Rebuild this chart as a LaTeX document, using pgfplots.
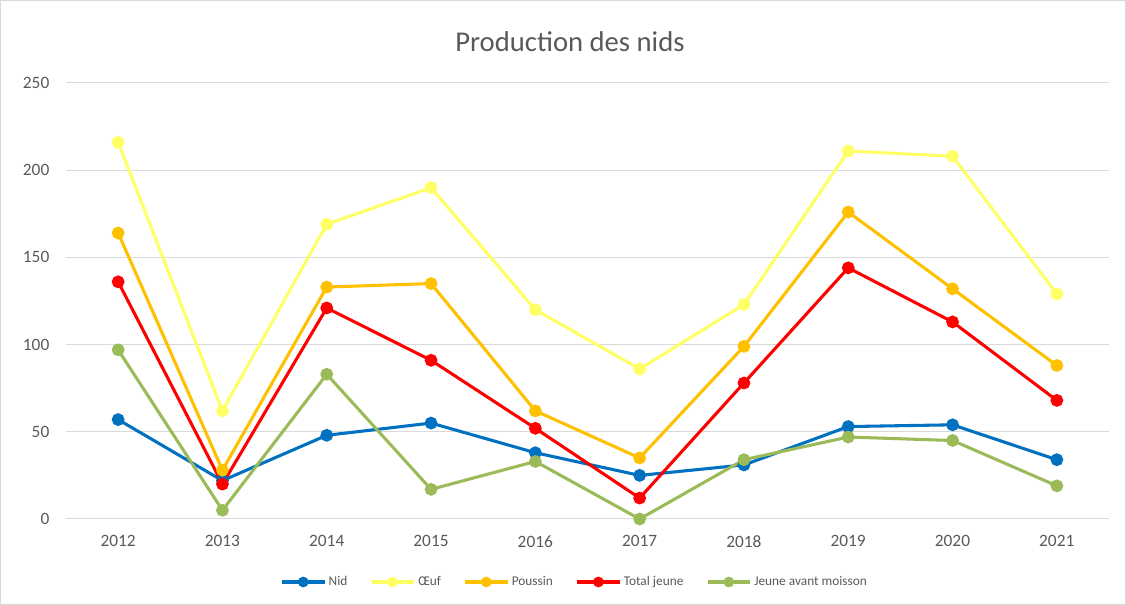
\documentclass[border=0pt]{standalone}
\usepackage{fontspec}
\setmainfont{Carlito}
\usepackage{pgfplots}
\pgfplotsset{compat=1.18}
\definecolor{cnid}{HTML}{0070C0}
\definecolor{coeuf}{HTML}{FFFF66}
\definecolor{cpou}{HTML}{FFC000}
\definecolor{ctot}{HTML}{FF0000}
\definecolor{cjav}{HTML}{9BBB59}
\definecolor{cgrid}{HTML}{D9D9D9}
\definecolor{ctxt}{HTML}{595959}
\begin{document}
\begin{tikzpicture}
\useasboundingbox (-49.5pt,-64.5pt) rectangle (795pt,389.25pt);
\draw[color=cgrid, line width=0.75pt] (-48.9pt,-63.9pt) rectangle (794.4pt,388.6pt);
\begin{axis}[
  scale only axis,
  width=782.25pt, height=327pt,
  xmin=2011.5, xmax=2021.5,
  ymin=0, ymax=250,
  xtick={2012,...,2021},
  ytick={0,50,...,250},
  axis line style={draw=none},
  major tick length=0pt,
  ymajorgrids,
  grid style={color=cgrid, line width=0.75pt},
  /pgf/number format/assume math mode=true,
  /pgf/number format/1000 sep={},
  tick label style={font=\fontsize{13}{15}\selectfont, color=ctxt},
  xticklabel style={yshift=-9pt},
  yticklabel style={xshift=-9pt},
  every axis plot/.append style={line width=2.3pt, mark=*, mark size=3.6pt},
  legend columns=5,
  legend style={draw=none, fill=none, at={(0.488,-0.1445)}, anchor=center,
    font=\fontsize{10}{12}\selectfont, text=ctxt,
    /tikz/every even column/.append style={column sep=15pt}},
  legend image code/.code={\draw[#1, line width=2.3pt, mark size=2.8pt, mark repeat=2, mark phase=2] plot coordinates {(0cm,0cm) (0.56cm,0cm) (1.12cm,0cm)};},
]
\addplot[color=cnid, mark options={fill=cnid}] coordinates {(2012,57) (2013,22) (2014,48) (2015,55) (2016,38) (2017,25) (2018,31) (2019,53) (2020,54) (2021,34)};
\addlegendentry{Nid}
\addplot[color=coeuf, mark options={fill=coeuf}] coordinates {(2012,216) (2013,62) (2014,169) (2015,190) (2016,120) (2017,86) (2018,123) (2019,211) (2020,208) (2021,129)};
\addlegendentry{Œuf}
\addplot[color=cpou, mark options={fill=cpou}] coordinates {(2012,164) (2013,28) (2014,133) (2015,135) (2016,62) (2017,35) (2018,99) (2019,176) (2020,132) (2021,88)};
\addlegendentry{Poussin}
\addplot[color=ctot, mark options={fill=ctot}] coordinates {(2012,136) (2013,20) (2014,121) (2015,91) (2016,52) (2017,12) (2018,78) (2019,144) (2020,113) (2021,68)};
\addlegendentry{Total jeune}
\addplot[color=cjav, mark options={fill=cjav}] coordinates {(2012,97) (2013,5) (2014,83) (2015,17) (2016,33) (2017,0) (2018,34) (2019,47) (2020,45) (2021,19)};
\addlegendentry{Jeune avant moisson}
\end{axis}
\node[font=\fontsize{21.5}{25}\selectfont, text=ctxt] at (378pt,357.75pt) {Production des nids};
\end{tikzpicture}
\end{document}
